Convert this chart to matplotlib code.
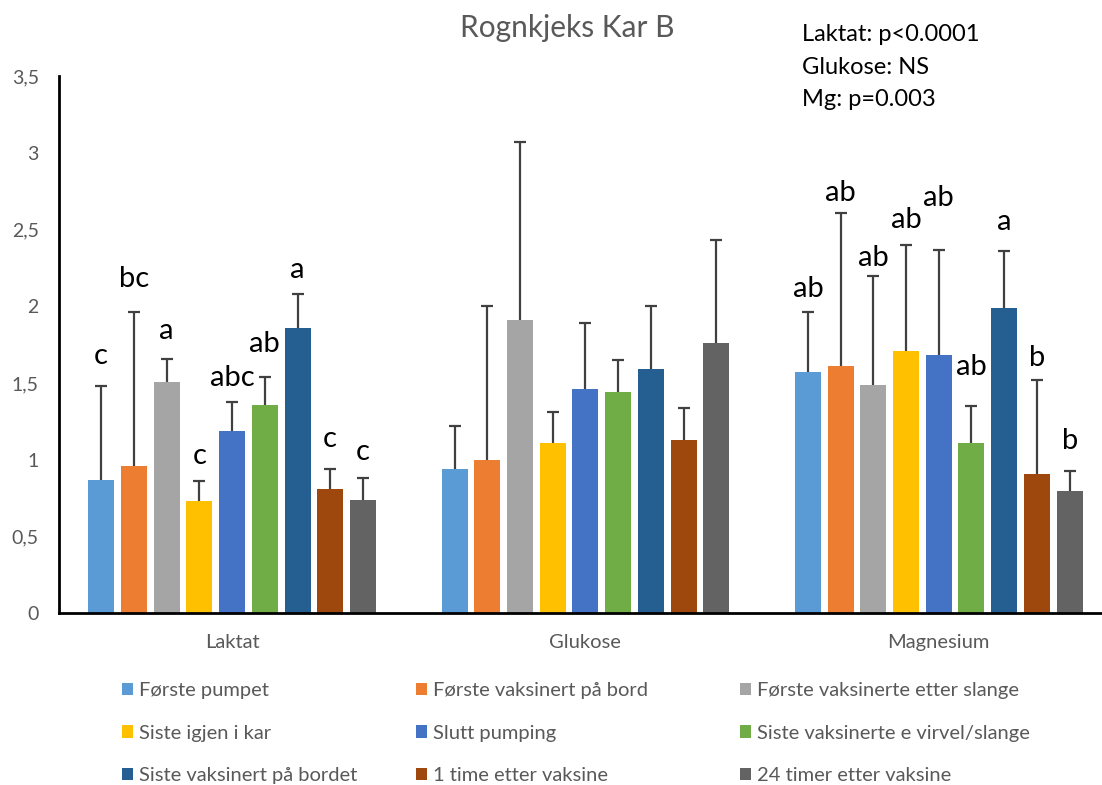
import numpy as np
import matplotlib.pyplot as plt

plt.rcParams['font.family'] = ['Lato', 'DejaVu Sans']

## DATA

categories = ["Laktat", "Glukose", "Magnesium"]
series = ["Første pumpet", "Første vaksinert på bord", "Første vaksinerte etter slange",
          "Siste igjen i kar", "Slutt pumping", "Siste vaksinerte e virvel/slange",
          "Siste vaksinert på bordet", "1 time etter vaksine", "24 timer etter vaksine"]

laktat_mean = [0.87, 0.96, 1.51, 0.73, 1.19, 1.36, 1.86, 0.81, 0.74]
laktat_sd = [0.61, 1.00, 0.15, 0.13, 0.19, 0.18, 0.22, 0.13, 0.14]
glukose_mean = [0.94, 1.00, 1.91, 1.11, 1.46, 1.445, 1.595, 1.13, 1.76]
glukose_sd = [0.28, 1.00, 1.16, 0.20, 0.43, 0.205, 0.405, 0.205, 0.67]
magnesium_mean = [1.57, 1.61, 1.49, 1.71, 1.68, 1.11, 1.99, 0.91, 0.80]
magnesium_sd = [0.39, 1.00, 0.71, 0.69, 0.69, 0.24, 0.37, 0.61, 0.13]

laktat_letters = ["c", "bc", "a", "c", "abc", "ab", "a", "c", "c"]
glukose_letters = [""] * 9
magnesium_letters = ["ab", "ab", "ab", "ab", "ab", "ab", "a", "b", "b"]

stats_text = "Laktat: p<0.0001\nGlukose: NS\nMg: p=0.003"

colors = ["#5B9BD5", "#ED7D31", "#A5A5A5", "#FFC000", "#4472C4",
          "#70AD47", "#255E91", "#9E480E", "#636363"]

# vertical offset (points) of each letter above its error bar
letter_offsets = [[22, 24, 20, 18, 17, 24, 17, 22, 19],
                  [0] * 9,
                  [17, 14, 13, 18, 37, 28, 21, 16, 21]]

means = np.array([laktat_mean, glukose_mean, magnesium_mean])
sds = np.array([laktat_sd, glukose_sd, magnesium_sd])
letters = [laktat_letters, glukose_letters, magnesium_letters]

## PLOT

grey = "#595959"
fig = plt.figure(figsize=(11.02, 7.85), dpi=100)
ax = fig.add_axes([0.0535, 0.2185, 0.9465, 0.6847])

x = np.arange(len(categories))
step = 0.0926
width = 0.0736

handles = []
for i in range(len(series)):
    xs = x + (i - 4) * step
    b = ax.bar(xs, means[:, i], width, color=colors[i], label=series[i], zorder=2)
    _, caps, _ = ax.errorbar(xs, means[:, i], yerr=[np.zeros(3), sds[:, i]], fmt="none",
                             ecolor="#404040", elinewidth=1.6, capsize=4.5, capthick=1.6,
                             zorder=3)
    caps[0].set_visible(False)  # only the upper cap, like Excel "plus" error bars
    handles.append(b)
    for g in range(len(categories)):
        if letters[g][i]:
            ax.annotate(letters[g][i], (xs[g], means[g, i] + sds[g, i]),
                        xytext=(0, letter_offsets[g][i]), textcoords="offset points",
                        ha="center", va="center", fontsize=21, color="black")

ax.set_xlim(-0.49, 2.462)
ax.set_ylim(0, 3.5)
ax.set_yticks(np.arange(0, 3.51, 0.5))
ax.set_yticklabels([("%g" % v).replace(".", ",") for v in np.arange(0, 3.51, 0.5)])
ax.set_xticks(x)
ax.set_xticklabels(categories)
ax.tick_params(axis="both", length=0, colors=grey, labelsize=14)
ax.tick_params(axis="x", labelsize=14.5)
ax.tick_params(axis="y", pad=14.5)
ax.tick_params(axis="x", pad=15)
for s in ["top", "right"]:
    ax.spines[s].set_visible(False)
ax.spines["left"].set_linewidth(2)
ax.spines["bottom"].set_linewidth(2)

fig.text(0.515, 0.964, "Rognkjeks Kar B", ha="center", va="center", fontsize=21.5, color=grey)
fig.text(0.728, 0.969, stats_text, ha="left", va="top", fontsize=17, color="black",
         linespacing=1.66)

# legend: three columns placed like the original
col_x = [122, 416, 740]
for c in range(3):
    idx = [c, c + 3, c + 6]
    fig.legend([handles[k] for k in idx], [series[k] for k in idx],
               loc="upper left", bbox_to_anchor=(col_x[c] / 1102, 1 - 682 / 785),
               frameon=False, fontsize=14.5, handlelength=0.55, handleheight=0.55,
               handletextpad=0.3, labelspacing=1.27, borderpad=0, borderaxespad=0,
               labelcolor=grey)

fig.savefig("out.png", dpi=100)
